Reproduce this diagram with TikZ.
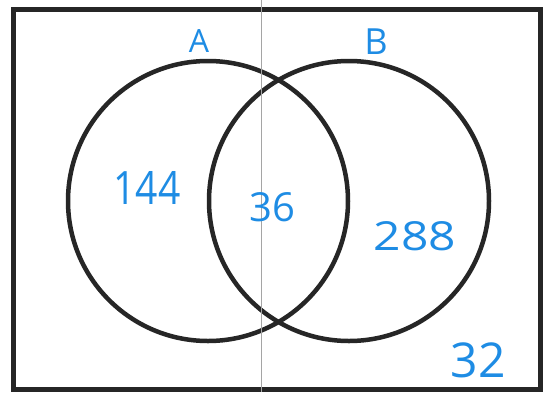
\documentclass[tikz,border=0pt]{standalone}
\usepackage{fontspec}
\setmainfont{Open Sans}
\definecolor{ink}{RGB}{30,140,228}
\definecolor{pen}{RGB}{38,38,38}
\definecolor{fold}{RGB}{165,165,165}
\begin{document}
\begin{tikzpicture}[x=1pt,y=-1pt,
  setline/.style={draw=pen,line width=4.5pt},
  hand/.style={text=ink,inner sep=0pt,font=\fontsize{#1}{#1}\selectfont},
  hand/.default=46]
\useasboundingbox[fill=white] (0,0) rectangle (544,392);
\draw[setline,line width=5pt] (13,9) rectangle (540,389);
\node[setline,circle,minimum size=280pt,inner sep=0pt] (A) at (208,201) {};
\node[setline,circle,minimum size=280pt,inner sep=0pt] (B) at (349,201) {};
\draw[fold,line width=0.8pt] (261,0) -- (261,392);
\node[hand=32] (la) at (199,41) {A};
\node[hand=36] (lb) at (376,42) {B};
\node[hand=46] (n144) at (147,188) {\scalebox{0.85}[1]{144}};
\node[hand=40] (n36) at (272,207) {36};
\node[hand=40] (n288) at (415,236) {\scalebox{1.2}[1]{288}};
\node[hand=48] (n32) at (478,360) {32};
\end{tikzpicture}
\end{document}
